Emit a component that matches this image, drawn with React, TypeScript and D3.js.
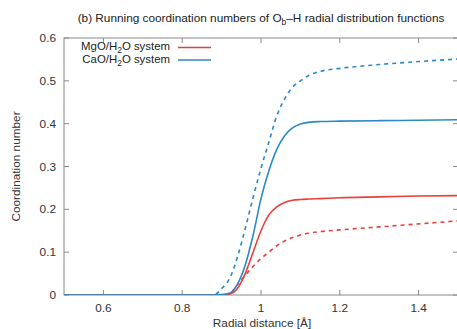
import * as d3 from "d3";

// shared radial grid (Å)
const rGrid = [0.5, 0.86, 0.88, 0.9, 0.92, 0.94, 0.96, 0.98, 1.0, 1.02, 1.04, 1.06, 1.08, 1.1, 1.12, 1.15, 1.2, 1.3, 1.4, 1.5];

const mgoSolid = [0, 0, 0, 0, 0.002, 0.015, 0.05, 0.1, 0.15, 0.187, 0.206, 0.216, 0.221, 0.223, 0.224, 0.225, 0.227, 0.229, 0.231, 0.232];
const mgoDashed = [0, 0, 0, 0, 0.003, 0.024, 0.046, 0.067, 0.085, 0.1, 0.115, 0.126, 0.134, 0.14, 0.144, 0.148, 0.152, 0.159, 0.166, 0.173];
const caoSolid = [0, 0, 0, 0.001, 0.004, 0.025, 0.07, 0.14, 0.225, 0.29, 0.34, 0.372, 0.39, 0.399, 0.403, 0.405, 0.406, 0.407, 0.408, 0.409];
const caoDashed = [0, 0, 0, 0.015, 0.038, 0.088, 0.155, 0.228, 0.296, 0.357, 0.418, 0.458, 0.485, 0.5, 0.512, 0.522, 0.529, 0.538, 0.545, 0.551];

const xTicks = [0.6, 0.8, 1, 1.2, 1.4];
const yTicks = [0, 0.1, 0.2, 0.3, 0.4, 0.5, 0.6];

const RED = "#e8403a";
const BLUE = "#2a8ac8";
const AXIS = "#8a8a8a";

const W = 457;
const H = 329;
const m = { left: 64, right: 458, top: 38, bottom: 295 };
const FS = 11.8;
const SUB = 8.5;
const LEG = 11.4;

export default function App() {
  const x = d3.scaleLinear().domain([0.5, 1.5]).range([m.left, m.right]);
  const y = d3.scaleLinear().domain([0, 0.6]).range([m.bottom, m.top]);

  const line = d3
    .line<number>()
    .x((_, i) => x(rGrid[i]))
    .y((d) => y(d))
    .curve(d3.curveMonotoneX);

  const series = [
    { vals: mgoDashed, color: RED, dash: "4,4" },
    { vals: caoDashed, color: BLUE, dash: "4,4" },
    { vals: mgoSolid, color: RED, dash: null },
    { vals: caoSolid, color: BLUE, dash: null },
  ];

  const font = "'Liberation Sans', Arial, sans-serif";

  return (
    <svg width={W} height={H} style={{ position: "absolute", left: 0, top: 0 }} fontFamily={font}>
      <rect width={W} height={H} fill="white" />

      <text x={261} y={22} fontSize={FS} textAnchor="middle" fill="#222">
        (b) Running coordination numbers of O<tspan dy={3} fontSize={SUB}>b</tspan>
        <tspan dy={-3}>–H radial distribution functions</tspan>
      </text>

      <clipPath id="plot">
        <rect x={m.left} y={m.top} width={m.right - m.left} height={m.bottom - m.top} />
      </clipPath>

      {/* frame */}
      <rect x={m.left} y={m.top} width={m.right - m.left} height={m.bottom - m.top} fill="none" stroke={AXIS} strokeWidth={1} />

      {/* ticks */}
      {xTicks.map((t) => (
        <g key={"x" + t}>
          <line x1={x(t)} x2={x(t)} y1={m.bottom} y2={m.bottom - 5} stroke={AXIS} />
          <line x1={x(t)} x2={x(t)} y1={m.top} y2={m.top + 5} stroke={AXIS} />
          <text x={x(t)} y={m.bottom + 17} fontSize={FS} textAnchor="middle" fill="#333">
            {t}
          </text>
        </g>
      ))}
      {yTicks.map((t) => (
        <g key={"y" + t}>
          <line x1={m.left} x2={m.left + 5} y1={y(t)} y2={y(t)} stroke={AXIS} />
          <line x1={m.right} x2={m.right - 5} y1={y(t)} y2={y(t)} stroke={AXIS} />
          <text x={56} y={y(t) + 4} fontSize={FS} textAnchor="end" fill="#333">
            {t}
          </text>
        </g>
      ))}

      <text x={262} y={327} fontSize={FS} textAnchor="middle" fill="#333">
        Radial distance [Å]
      </text>
      <text transform={`translate(20,${(m.top + m.bottom) / 2}) rotate(-90)`} fontSize={FS} textAnchor="middle" fill="#333">
        Coordination number
      </text>

      {/* curves */}
      <g clipPath="url(#plot)">
        {series.map((s, i) => (
          <path
            key={i}
            d={line(s.vals) || ""}
            fill="none"
            stroke={s.color}
            strokeWidth={1.6}
            strokeDasharray={s.dash || undefined}
          />
        ))}
      </g>

      {/* legend */}
      <g fontSize={LEG} fill="#222">
        <text x={170} y={50} textAnchor="end">
          MgO/H<tspan dy={2.5} fontSize={SUB}>2</tspan>
          <tspan dy={-2.5}>O system</tspan>
        </text>
        <line x1={178} x2={211} y1={47.5} y2={47.5} stroke={RED} strokeWidth={1.6} />
        <text x={170} y={63} textAnchor="end">
          CaO/H<tspan dy={2.5} fontSize={SUB}>2</tspan>
          <tspan dy={-2.5}>O system</tspan>
        </text>
        <line x1={178} x2={211} y1={60} y2={60} stroke={BLUE} strokeWidth={1.6} />
      </g>
    </svg>
  );
}
